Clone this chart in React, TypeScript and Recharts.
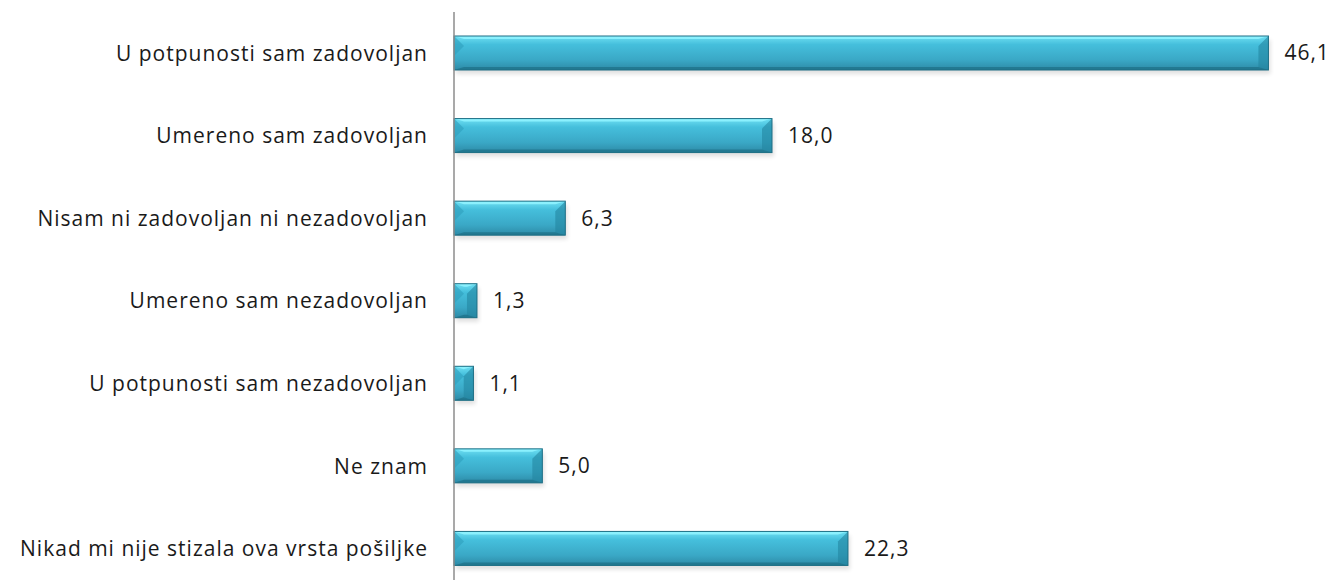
import React from "react";
import { BarChart, Bar, XAxis, YAxis, LabelList } from "recharts";

const categories = [
  "U potpunosti sam zadovoljan",
  "Umereno sam zadovoljan",
  "Nisam ni zadovoljan ni nezadovoljan",
  "Umereno sam nezadovoljan",
  "U potpunosti sam nezadovoljan",
  "Ne znam ",
  "Nikad mi nije stizala ova vrsta pošiljke",
];
const values = [46.1, 18.0, 6.3, 1.3, 1.1, 5.0, 22.3];
const data = categories.map((name, i) => ({ name, value: values[i] }));

const FONT = "'Open Sans', sans-serif";

const BevelBar = (props: any) => {
  const { x, y, width, height } = props;
  if (!width || width <= 0) return null;
  const b = Math.min(10, width / 2);
  const v = Math.min(3, height / 2);
  return (
    <g>
      <rect x={x + 2} y={y + 4} width={width} height={height} fill="#000" opacity={0.12} filter="url(#blurSh)" />
      <rect x={x} y={y} width={width} height={height} fill="url(#barGrad)" />
      <polygon points={`${x},${y} ${x + width},${y} ${x + width - b},${y + v} ${x + b},${y + v}`} fill="#8ff3ff" opacity={0.9} />
      <polygon points={`${x},${y} ${x + b},${y + 10} ${x},${y + 20}`} fill="#2f9fbd" opacity={0.6} />
      <polygon points={`${x + width},${y} ${x + width - b},${y + 10} ${x + width - b},${y + height - v} ${x + width},${y + height}`} fill="#2385a0" opacity={0.6} />
      <polygon points={`${x},${y + height} ${x + width},${y + height} ${x + width - b},${y + height - v} ${x + b},${y + height - v}`} fill="#1c6f86" opacity={0.7} />
      <rect x={x} y={y} width={width} height={height} fill="none" stroke="#1e6f85" strokeWidth={1} />
    </g>
  );
};

export default function App() {
  return (
    <div style={{ position: "absolute", left: 0, top: 0, width: 1333, height: 580, overflow: "hidden", background: "#fff" }}>
      <BarChart
        width={1333}
        height={600}
        data={data}
        layout="vertical"
        margin={{ top: 12, right: 31, bottom: 10, left: 0 }}
        barSize={34}
      >
        <defs>
          <linearGradient id="barGrad" x1="0" y1="0" x2="0" y2="1">
            <stop offset="0%" stopColor="#6fe0f3" />
            <stop offset="25%" stopColor="#45bfdc" />
            <stop offset="70%" stopColor="#3aa8c6" />
            <stop offset="100%" stopColor="#2d8aa6" />
          </linearGradient>
          <filter id="blurSh" x="-10%" y="-50%" width="120%" height="200%">
            <feGaussianBlur stdDeviation="2" />
          </filter>
        </defs>
        <XAxis type="number" domain={[0, 48]} hide />
        <YAxis
          type="category"
          dataKey="name"
          width={454}
          axisLine={{ stroke: "#8c8c8c", strokeWidth: 1.5 }}
          tickLine={false}
          tickMargin={20}
          tick={{ fill: "#1a1a1a", fontSize: 21, fontFamily: FONT, letterSpacing: 1 }}
        />
        <Bar dataKey="value" shape={<BevelBar />} isAnimationActive={false}>
          <LabelList
            dataKey="value"
            position="right"
            offset={16}
            formatter={(v: any) => Number(v).toFixed(1).replace(".", ",")}
            style={{ fill: "#1a1a1a", fontSize: 21, fontFamily: FONT, letterSpacing: 1 }}
          />
        </Bar>
      </BarChart>
    </div>
  );
}
